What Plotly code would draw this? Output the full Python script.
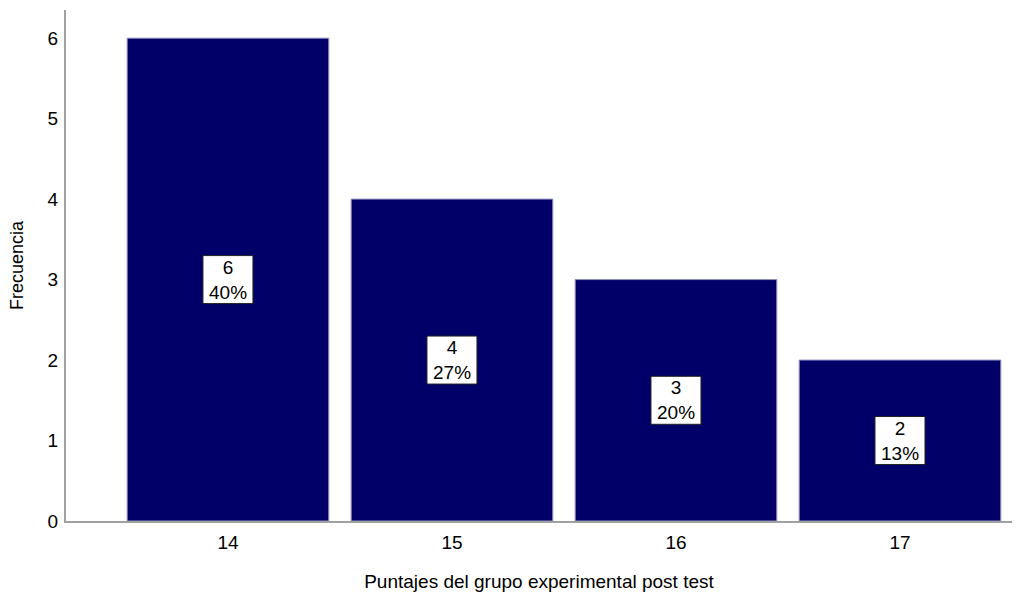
import plotly.graph_objects as go

categories = ["14", "15", "16", "17"]
counts = [6, 4, 3, 2]
percents = ["40%", "27%", "20%", "13%"]
y_ticks = [0, 1, 2, 3, 4, 5, 6]

FONT = "Liberation Sans, Arial"

fig = go.Figure()
fig.add_trace(go.Bar(
    x=list(range(len(categories))), y=counts, width=0.9,
    marker=dict(color="#000068", line=dict(color="#9090c0", width=1)),
    hoverinfo="skip",
))

for i, (v, p) in enumerate(zip(counts, percents)):
    fig.add_shape(
        type="rect", xref="x", yref="y",
        xsizemode="pixel", ysizemode="pixel",
        xanchor=i, yanchor=v / 2,
        x0=-25, x1=25, y0=-24, y1=24,
        fillcolor="white", line=dict(color="#222222", width=1),
        layer="above",
    )
    fig.add_annotation(
        x=i, y=v / 2, text=f"{v}<br>{p}", showarrow=False,
        font=dict(family=FONT, size=19, color="black"),
        xref="x", yref="y",
    )

fig.update_layout(
    width=1022, height=594,
    margin=dict(l=66, r=10, t=10, b=73),
    plot_bgcolor="white", paper_bgcolor="white",
    showlegend=False,
    font=dict(family=FONT, size=19, color="black"),
)
fig.update_xaxes(
    range=[-0.723, 3.5], automargin=False,
    tickvals=list(range(len(categories))), ticktext=categories,
    showline=True, linecolor="#a0a0a0", linewidth=2,
    ticks="", showgrid=False, zeroline=False,
    tickfont=dict(size=19), ticklabelstandoff=3,
    title=dict(text="Puntajes del grupo experimental post test", font=dict(size=19), standoff=23),
)
fig.update_yaxes(
    range=[0, 6.35], tickvals=y_ticks, automargin=False,
    showline=True, linecolor="#a0a0a0", linewidth=2,
    ticks="", showgrid=False, zeroline=False,
    tickfont=dict(size=19), ticklabelstandoff=2,
    title=dict(text="Frecuencia", font=dict(size=18), standoff=19),
)

fig.write_html("out.html", config={"displayModeBar": False},
               post_script="document.body.style.margin='0';")
